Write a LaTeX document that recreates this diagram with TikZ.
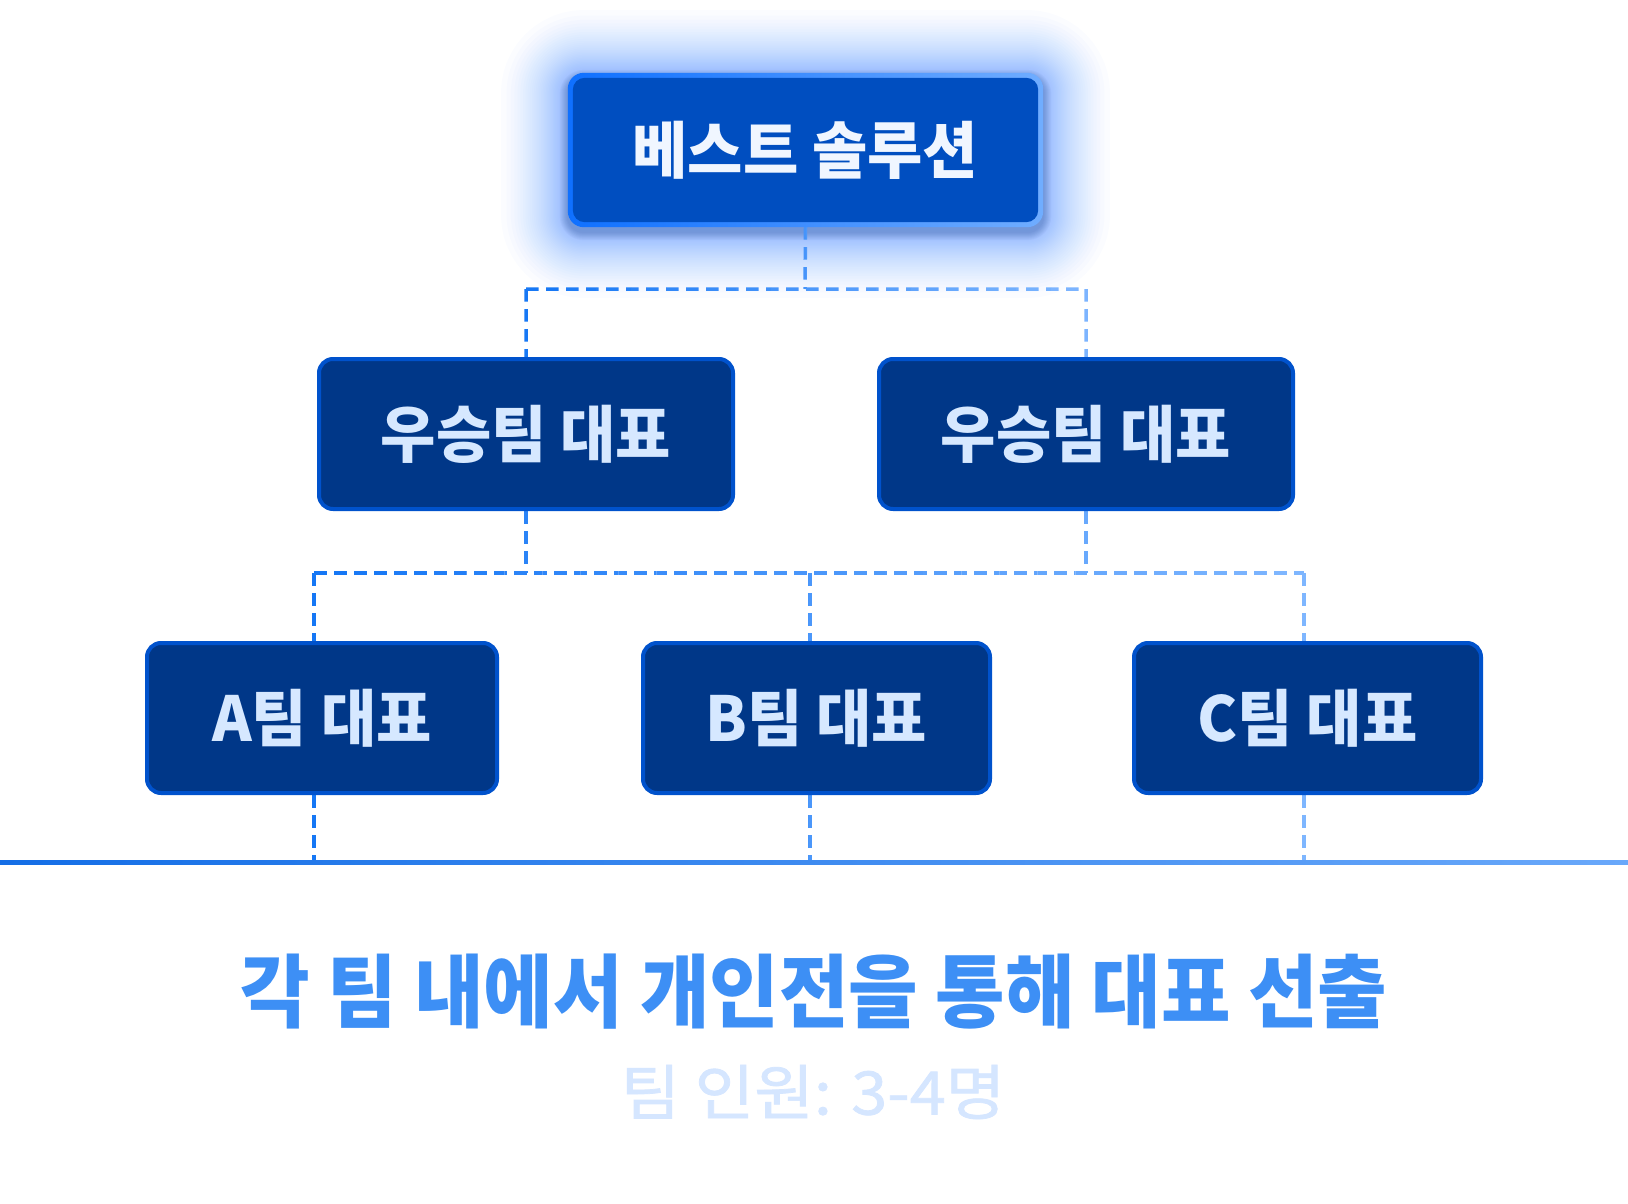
\documentclass[tikz,border=0pt]{standalone}
\usepackage{fontspec}
\newfontfamily\krbox[FakeStretch=0.97]{Noto Sans CJK KR}
\newfontfamily\krcap[FakeStretch=0.945]{Noto Sans CJK KR}
\newfontfamily\krsub[FakeStretch=1.08,FakeBold=1.2]{Noto Sans CJK KR}
\usetikzlibrary{backgrounds}
\definecolor{topfill}{RGB}{0,78,192}
\definecolor{topbordL}{RGB}{15,112,255}
\definecolor{topbordR}{RGB}{112,173,255}
\definecolor{toptext}{RGB}{240,246,255}
\definecolor{rowfill}{RGB}{0,55,136}
\definecolor{rowborder}{RGB}{0,82,204}
\definecolor{rowtext}{RGB}{214,232,255}
\definecolor{capc}{RGB}{61,143,245}
\definecolor{subc}{RGB}{213,230,255}
\definecolor{dashL}{RGB}{20,118,245}
\definecolor{dashR}{RGB}{128,183,255}
\definecolor{baseL}{RGB}{20,110,230}
\definecolor{baseR}{RGB}{105,168,250}
\definecolor{glowc}{RGB}{70,145,255}
\definecolor{shadc}{RGB}{20,50,120}
\newcommand\gradpath[4]{%
  \foreach \i in {1,...,#3}{%
    \pgfmathsetmacro\wd{(#2-#1)/#3}%
    \pgfmathsetmacro\cl{#1+(\i-1)*\wd-300*(\i==1)}%
    \pgfmathsetmacro\cr{#1+\i*\wd+300*(\i==#3)}%
    \pgfmathtruncatemacro\pc{(\i-0.5)/#3*100}%
    \colorlet{tmpc}{dashR!\pc!dashL}%
    \begin{scope}
      \clip (\cl,-50) rectangle (\cr,1300);
      \draw[dashline,draw=tmpc] #4;
    \end{scope}
  }%
}
\begin{document}
\begin{tikzpicture}[x=1pt,y=-1pt,
  rowbox/.style={draw=rowborder,line width=4pt,fill=rowfill,rounded corners=14pt,
    inner sep=0pt,minimum height=150pt,text=rowtext,
    font={\krbox\bfseries\fontsize{62}{70}\selectfont}},
  topbox/.style={inner sep=0pt,minimum width=475pt,minimum height=154pt,text=toptext,
    font={\krbox\bfseries\fontsize{62}{70}\selectfont}},
  dashline/.style={line width=3.5pt,dash pattern=on 12.5pt off 7.5pt}]
\useasboundingbox (0,0) rectangle (1628,1204);

% nodes
\node[topbox] (top) at (805.5,150) {베스트 솔루션};
\node[rowbox,minimum width=414pt] (w1) at (526,434) {우승팀 대표};
\node[rowbox,minimum width=414pt] (w2) at (1086,434) {우승팀 대표};
\node[rowbox,minimum width=350pt] (a) at (322,718) {A팀 대표};
\node[rowbox,minimum width=347pt] (b) at (816.5,718) {B팀 대표};
\node[rowbox,minimum width=347pt] (c) at (1307.5,718) {C팀 대표};

\coordinate (jt) at (805,289);
\coordinate (jl) at (526,289);
\coordinate (jr) at (1086,289);
\coordinate (kl) at (526,573);
\coordinate (kr) at (1086,573);
\coordinate (ka) at (314,573);
\coordinate (kb) at (810,573);
\coordinate (kc) at (1304,573);
\coordinate (ba) at (314,862);
\coordinate (bb) at (810,862);
\coordinate (bc) at (1304,862);
\coordinate (baseleft) at (0,862);
\coordinate (baseright) at (1628,862);

\node[font={\krcap\bfseries\fontsize{80}{90}\selectfont},text=capc] (cap) at (814,992) {각 팀 내에서 개인전을 통해 대표 선출};
\node[font={\krsub\fontsize{60}{70}\selectfont},text=subc] (sub) at (813,1092) {팀 인원: 3-4명};

\begin{pgfonlayer}{background}
  \fill[white] (0,0) rectangle (1628,1204);
  % glow
  \foreach \i in {1,...,36}{
    \pgfmathsetmacro\e{80*(1-sqrt((37-\i)/36))}
    \fill[glowc,opacity=0.018,rounded corners={16+\e}]
      ([shift={(-\e,-\e+4)}]top.north west) rectangle ([shift={(\e,\e+4)}]top.south east);
  }
  \foreach \i in {1,...,8}{
    \fill[shadc,opacity=0.035,rounded corners={16+\i}]
      ([shift={(-\i,-\i+5)}]top.north west) rectangle ([shift={(\i,\i+5)}]top.south east);
  }
  % dashed connectors
  \gradpath{526}{1086}{16}{(top.south) -- (jt) (jl) -- (jr) (jl) -- (w1.north) (jr) -- (w2.north)}
  \gradpath{314}{1304}{26}{(w1.south) -- (kl) (w2.south) -- (kr) (ka) -- (kc) (ka) -- (ka |- a.north) (kb) -- (kb |- b.north) (kc) -- (kc |- c.north) (ba |- a.south) -- (ba) (bb |- b.south) -- (bb) (bc |- c.south) -- (bc)}
  % top box body
  \shade[left color=topbordL,right color=topbordR,rounded corners=16pt]
    (top.north west) rectangle (top.south east);
  \fill[topfill,rounded corners=12pt]
    ([shift={(5,5)}]top.north west) rectangle ([shift={(-5,-5)}]top.south east);
  % base line
  \shade[left color=baseL,right color=baseR]
    ([yshift=-2]baseleft) rectangle ([yshift=2]baseright);
\end{pgfonlayer}
\end{tikzpicture}
\end{document}
